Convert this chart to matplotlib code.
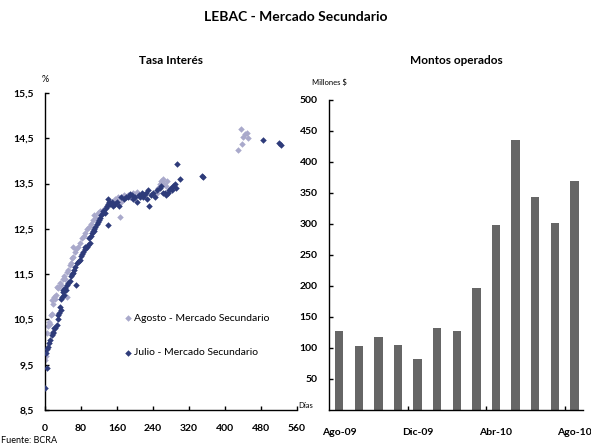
import matplotlib
matplotlib.use("Agg")
import matplotlib.pyplot as plt
from matplotlib.ticker import FixedLocator, FuncFormatter

plt.rcParams['font.family'] = ['Lato', 'DejaVu Sans']

# ---- Data: Tasa de interés (días, %) ----
julio_dias = [0, 4, 3, 5, 7, 10, 12, 15, 17, 18, 19, 22, 26, 28, 30, 32, 33, 35, 36, 38,
              40, 41, 43, 45, 47, 50, 52, 55, 57, 60, 63, 65, 67, 70, 72, 75, 78, 80, 82, 85,
              88, 90, 93, 95, 98, 100, 102, 104, 106, 108, 110, 112, 115, 118, 120, 122, 125,
              128, 130, 133, 135, 137, 140, 141, 143, 141, 145, 148, 152, 155, 160, 165, 170,
              175, 180, 185, 189, 193, 196, 200, 205, 208, 212, 215, 218, 220, 224, 226, 228,
              232, 236, 240, 244, 250, 255, 258, 262, 266, 270, 273, 276, 279, 282, 285, 288,
              292, 294, 300, 350, 352, 485, 521, 524]
julio_tasa = [8.99, 9.42, 9.75, 9.85, 9.90, 9.98, 10.05, 10.15, 10.20, 10.23, 10.30, 10.30,
              10.38, 10.50, 10.60, 10.65, 10.78, 10.70, 10.95, 11.00, 11.10, 11.15, 11.05,
              11.20, 11.15, 11.25, 11.30, 11.35, 11.45, 11.50, 11.52, 11.60, 11.65, 11.26,
              11.75, 11.80, 11.81, 11.90, 11.95, 12.00, 12.05, 12.10, 12.10, 12.15, 12.30,
              12.18, 12.35, 12.40, 12.45, 12.50, 12.45, 12.55, 12.60, 12.65, 12.70, 12.75,
              12.80, 12.85, 12.90, 12.85, 12.95, 13.00, 13.05, 12.58, 13.10, 13.17, 13.05,
              13.10, 13.00, 13.05, 13.10, 13.00, 13.20, 13.15, 13.20, 13.20, 13.28, 13.25,
              13.15, 13.20, 13.10, 13.25, 13.20, 13.30, 13.20, 13.25, 13.30, 13.17, 13.35,
              13.00, 13.25, 13.30, 13.20, 13.35, 13.40, 13.45, 13.30, 13.30, 13.25, 13.30,
              13.35, 13.40, 13.35, 13.45, 13.50, 13.40, 13.93, 13.60, 13.66, 13.64, 14.46,
              14.39, 14.35]

agosto_dias = [0, 2, 4, 6, 8, 11, 13, 15, 15, 18, 20, 22, 25, 26, 30, 33, 36, 40, 43, 45,
               48, 50, 52, 55, 58, 60, 63, 63, 66, 70, 74, 78, 82, 86, 90, 94, 98, 102, 106,
               110, 114, 118, 122, 126, 130, 134, 138, 142, 148, 152, 156, 160, 163, 167, 170,
               176, 185, 190, 195, 204, 248, 251, 255, 258, 262, 265, 268, 271,
               430, 435, 437, 440, 444, 448, 452]
agosto_tasa = [9.60, 9.70, 10.20, 10.35, 10.45, 10.41, 10.60, 10.63, 10.93, 10.85, 11.00,
               10.95, 11.05, 11.22, 11.20, 11.30, 11.25, 11.40, 11.45, 11.40, 11.55, 11.00,
               11.60, 11.70, 11.75, 11.85, 11.88, 12.09, 12.00, 12.05, 12.10, 12.18, 12.30,
               12.35, 12.40, 12.50, 12.55, 12.60, 12.70, 12.80, 12.75, 12.85, 12.90, 12.90,
               12.88, 12.95, 13.00, 13.05, 13.06, 13.10, 13.15, 13.15, 13.20, 12.77, 13.10,
               13.25, 13.25, 13.20, 13.30, 13.32, 13.30, 13.40, 13.50, 13.55, 13.60, 13.50,
               13.45, 13.55, 14.25, 14.70, 14.37, 14.53, 14.60, 14.62, 14.50]

# ---- Data: Montos operados ----
meses = ['Ago-09', 'Sep-09', 'Oct-09', 'Nov-09', 'Dic-09', 'Ene-10', 'Feb-10', 'Mar-10',
         'Abr-10', 'May-10', 'Jun-10', 'Jul-10', 'Ago-10']
montos = [128, 104, 117, 105, 83, 133, 128, 196, 299, 436, 343, 302, 370]

x_ticks_dias = [0, 80, 160, 240, 320, 400, 480, 560]
y_ticks_tasa = [8.5, 9.5, 10.5, 11.5, 12.5, 13.5, 14.5, 15.5]
y_ticks_montos = [50, 100, 150, 200, 250, 300, 350, 400, 450, 500]

DARK = '#2E3B7A'
LIGHT = '#A9A9CB'
BAR = '#666666'

fig = plt.figure(figsize=(5.91, 4.44), dpi=100)

fig.text(0.5, 0.962, 'LEBAC - Mercado Secundario', ha='center', va='center',
         fontsize=10, fontweight='bold')

# ---- Left panel ----
ax1 = fig.add_axes([0.0761, 0.0766, 0.4264, 0.7139])
ax1.scatter(agosto_dias, agosto_tasa, marker='D', s=11, color=LIGHT, linewidths=0,
            label='Agosto - Mercado Secundario', zorder=2)
ax1.scatter(julio_dias, julio_tasa, marker='D', s=11, color=DARK, linewidths=0,
            label='Julio - Mercado Secundario', zorder=3)
ax1.set_xlim(0, 560)
ax1.set_ylim(8.5, 15.5)
ax1.xaxis.set_major_locator(FixedLocator(x_ticks_dias))
ax1.yaxis.set_major_locator(FixedLocator(y_ticks_tasa))
ax1.yaxis.set_major_formatter(FuncFormatter(lambda v, p: f'{v:.1f}'.replace('.', ',')))
for s in ['top', 'right']:
    ax1.spines[s].set_visible(False)
for s in ['left', 'bottom']:
    ax1.spines[s].set_linewidth(1.0)
ax1.tick_params(axis='both', direction='in', length=3, width=1, labelsize=7.5)
ax1.tick_params(axis='x', pad=10)
ax1.tick_params(axis='y', pad=8)
for lab in ax1.get_xticklabels() + ax1.get_yticklabels():
    lab.set_fontweight('bold')
ax1.set_title('Tasa Interés', fontsize=8.5, fontweight='bold', pad=21)
leg = ax1.legend(loc='center left', bbox_to_anchor=(0.27, 0.235), frameon=False,
                 fontsize=7.5, labelspacing=2.4, handletextpad=0.1, markerscale=1.0,
                 handlelength=1.0)
ax1.text(0.0, 1.03, '%', transform=ax1.transAxes, ha='center', va='bottom', fontsize=6.5)
ax1.text(1.005, 0.015, 'Días', transform=ax1.transAxes, ha='left', va='center', fontsize=5.5)

# ---- Right panel ----
ax2 = fig.add_axes([0.5567, 0.0766, 0.4298, 0.6982])
pos = list(range(len(meses)))
ax2.bar(pos, montos, width=0.42, color=BAR, zorder=2)
ax2.set_xlim(-0.52, 12.44)
ax2.set_ylim(0, 500)
ax2.yaxis.set_major_locator(FixedLocator(y_ticks_montos))
ax2.set_xticks([0, 4, 8, 12])
ax2.set_xticklabels([meses[0], meses[4], meses[8], meses[12]])
ax2.set_xticks([3.5, 7.5, 11.5], minor=True)
for s in ['top', 'right']:
    ax2.spines[s].set_visible(False)
for s in ['left', 'bottom']:
    ax2.spines[s].set_linewidth(1.0)
ax2.tick_params(axis='x', which='major', length=0, pad=13, labelsize=7.5)
ax2.tick_params(axis='x', which='minor', direction='in', length=3, width=1)
ax2.tick_params(axis='y', direction='in', length=3, width=1, labelsize=7.5, pad=8)
for lab in ax2.get_xticklabels() + ax2.get_yticklabels():
    lab.set_fontweight('bold')
ax2.set_title('Montos operados', fontsize=8.5, fontweight='bold', pad=26)
ax2.text(-0.0, 1.045, 'Millones $', transform=ax2.transAxes, ha='center', va='bottom',
         fontsize=5.5)

fig.text(0.002, 0.009, 'Fuente: BCRA', ha='left', va='center', fontsize=6.5)

fig.savefig('out.png', dpi=100)
